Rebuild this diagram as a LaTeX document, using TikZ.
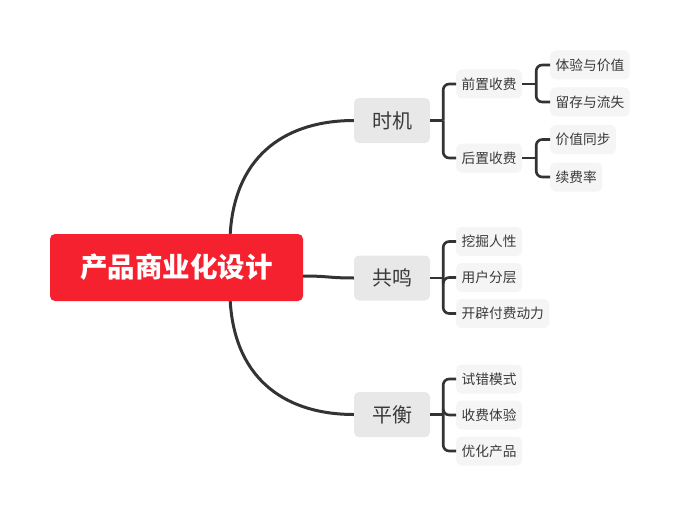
\documentclass[tikz,border=0pt]{standalone}
\usepackage{fontspec}
\setmainfont{Noto Sans CJK SC}
\usepackage{tikz}
\usetikzlibrary{calc}

\definecolor{rojo}{HTML}{F5212F}
\definecolor{linea}{HTML}{333333}
\definecolor{texto}{HTML}{3A3A3A}
\definecolor{gris}{HTML}{E8E8E8}
\definecolor{grisclaro}{HTML}{F5F5F5}

\tikzset{
    raiz/.style={fill=rojo, rounded corners=5pt, text=white, font=\fontsize{27.5}{29}\selectfont\bfseries, minimum width=253pt, minimum height=67pt},
    rama/.style={fill=gris, rounded corners=5pt, text=texto, font=\fontsize{20}{22}\selectfont, minimum width=76pt, minimum height=45pt},
    hoja/.style={fill=grisclaro, rounded corners=5pt, text=texto, font=\fontsize{13.7}{15}\selectfont, inner xsep=5.5pt, minimum height=29pt, anchor=west},
    conector/.style={draw=linea, line width=3pt},
    llave/.style={draw=linea, line width=2.6pt, rounded corners=6pt}
}

\begin{document}
\begin{tikzpicture}[x=1pt, y=-1pt]
    % Establecer los límites del gráfico
    \useasboundingbox (0,0) rectangle (682,516);

    % Nodo central
    \node[raiz] (root) at (176.5,267.5) {产品商业化设计};

    % Ramas principales
    \node[rama] (shiji) at (392,120.5) {时机};
    \node[rama] (gongming) at (392,278) {共鸣};
    \node[rama] (pingheng) at (392,414.5) {平衡};

    % Puntos de salida desde el nodo central
    \coordinate (r1) at ($(root.north east)+(-73,0)$);
    \coordinate (r2) at ($(root.east)+(0,8.5)$);
    \coordinate (r3) at ($(root.south east)+(-73,0)$);

    % Curvas hacia las ramas principales
    \draw[conector] (r1) .. controls +(5,-82) and +(-64,0) .. (shiji.west);
    \draw[conector] (r2) .. controls +(25,0) and +(-25,0) .. (gongming.west);
    \draw[conector] (r3) .. controls +(5,82) and +(-64,0) .. (pingheng.west);

    % Subramas de shiji
    \node[hoja] (qianzhi) at (456,84) {前置收费};
    \node[hoja] (houzhi) at (456,158) {后置收费};
    \draw[llave] (shiji.east) -- ++(13,0) coordinate (j1);
    \draw[llave] (j1) |- (qianzhi.west);
    \draw[llave] (j1) |- (houzhi.west);

    % Hojas de qianzhi
    \node[hoja] (tiyan) at (550,65) {体验与价值};
    \node[hoja] (liucun) at (550,102) {留存与流失};
    \draw[llave] (qianzhi.east) -- ++(14,0) coordinate (j2);
    \draw[llave] (j2) |- (tiyan.west);
    \draw[llave] (j2) |- (liucun.west);

    % Hojas de houzhi
    \node[hoja] (tongbu) at (550,139.5) {价值同步};
    \node[hoja] (xufei) at (550,177) {续费率};
    \draw[llave] (houzhi.east) -- ++(14,0) coordinate (j3);
    \draw[llave] (j3) |- (tongbu.west);
    \draw[llave] (j3) |- (xufei.west);

    % Subramas de gongming
    \node[hoja] (wajue) at (456,241.5) {挖掘人性};
    \node[hoja] (fenceng) at (456,277.5) {用户分层};
    \node[hoja] (dongli) at (456,313.5) {开辟付费动力};
    \draw[llave] (gongming.east) -- ++(13,0) coordinate (j4);
    \draw[llave] (j4) |- (wajue.west);
    \draw[llave] (j4) |- (fenceng.west);
    \draw[llave] (j4) |- (dongli.west);

    % Subramas de pingheng
    \node[hoja] (shicuo) at (456,379) {试错模式};
    \node[hoja] (shoufei) at (456,415) {收费体验};
    \node[hoja] (youhua) at (456,451) {优化产品};
    \draw[llave] (pingheng.east) -- ++(13,0) coordinate (j5);
    \draw[llave] (j5) |- (shicuo.west);
    \draw[llave] (j5) |- (shoufei.west);
    \draw[llave] (j5) |- (youhua.west);

\end{tikzpicture}
\end{document}
